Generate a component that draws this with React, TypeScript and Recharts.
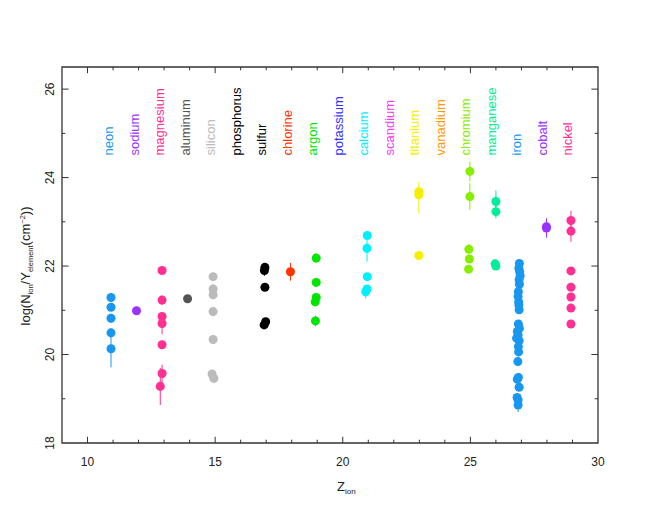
import {
  ErrorBar,
  ReferenceArea,
  ReferenceLine,
  Scatter,
  ScatterChart,
  XAxis,
  YAxis,
} from "recharts";

type Pt = { z: number; v: number; e: number | number[] };

const neon: Pt[] = [
  { z: 10.92, v: 21.29, e: 0 },
  { z: 10.92, v: 21.07, e: 0.08 },
  { z: 10.92, v: 20.82, e: 0.1 },
  { z: 10.92, v: 20.49, e: 0.1 },
  { z: 10.92, v: 20.13, e: 0.42 },
];
const sodium: Pt[] = [{ z: 11.92, v: 20.99, e: 0 }];
const magnesium: Pt[] = [
  { z: 12.92, v: 21.9, e: 0 },
  { z: 12.92, v: 21.23, e: 0.1 },
  { z: 12.92, v: 20.86, e: 0.1 },
  { z: 12.92, v: 20.7, e: 0.24 },
  { z: 12.92, v: 20.22, e: 0 },
  { z: 12.92, v: 19.57, e: 0.2 },
  { z: 12.85, v: 19.28, e: 0.42 },
];
const aluminum: Pt[] = [{ z: 13.92, v: 21.26, e: 0 }];
const silicon: Pt[] = [
  { z: 14.92, v: 21.76, e: 0 },
  { z: 14.92, v: 21.48, e: 0.12 },
  { z: 14.92, v: 21.35, e: 0.1 },
  { z: 14.92, v: 20.97, e: 0 },
  { z: 14.92, v: 20.34, e: 0 },
  { z: 14.88, v: 19.56, e: 0 },
  { z: 14.95, v: 19.46, e: 0 },
];
const sulfur: Pt[] = [
  { z: 16.95, v: 21.97, e: 0 },
  { z: 16.93, v: 21.9, e: 0.12 },
  { z: 16.95, v: 21.52, e: 0 },
  { z: 16.98, v: 20.74, e: 0 },
  { z: 16.92, v: 20.67, e: 0 },
];
const chlorine: Pt[] = [{ z: 17.95, v: 21.87, e: 0.2 }];
const argon: Pt[] = [
  { z: 18.96, v: 22.18, e: 0.1 },
  { z: 18.96, v: 21.63, e: 0.05 },
  { z: 18.96, v: 21.29, e: 0 },
  { z: 18.92, v: 21.19, e: 0 },
  { z: 18.93, v: 20.76, e: 0.12 },
];
const calcium: Pt[] = [
  { z: 20.96, v: 22.69, e: 0.05 },
  { z: 20.95, v: 22.4, e: 0.3 },
  { z: 20.96, v: 21.76, e: 0 },
  { z: 20.95, v: 21.48, e: 0 },
  { z: 20.9, v: 21.42, e: 0.15 },
];
const titanium: Pt[] = [
  { z: 22.98, v: 23.68, e: [0.49, 0.22] },
  { z: 22.98, v: 23.61, e: 0 },
  { z: 22.98, v: 22.24, e: 0 },
];
const chromium: Pt[] = [
  { z: 24.98, v: 24.14, e: 0.22 },
  { z: 24.98, v: 23.57, e: 0.3 },
  { z: 24.94, v: 22.38, e: 0.12 },
  { z: 24.96, v: 22.16, e: 0 },
  { z: 24.93, v: 21.93, e: 0 },
];
const manganese: Pt[] = [
  { z: 26.0, v: 23.46, e: 0.25 },
  { z: 26.0, v: 23.23, e: 0.15 },
  { z: 25.97, v: 22.05, e: 0.1 },
  { z: 26.0, v: 22.0, e: 0 },
];
const iron: Pt[] = [
  { z: 26.92, v: 22.06, e: 0 },
  { z: 26.9, v: 21.95, e: 0 },
  { z: 26.93, v: 21.87, e: 0 },
  { z: 26.95, v: 21.78, e: 0 },
  { z: 26.91, v: 21.69, e: 0 },
  { z: 26.92, v: 21.59, e: 0 },
  { z: 26.88, v: 21.42, e: 0 },
  { z: 26.87, v: 21.31, e: 0 },
  { z: 26.89, v: 21.19, e: 0 },
  { z: 26.9, v: 21.12, e: 0 },
  { z: 26.91, v: 21.01, e: 0 },
  { z: 26.88, v: 20.69, e: 0 },
  { z: 26.92, v: 20.59, e: 0 },
  { z: 26.84, v: 20.52, e: 0 },
  { z: 26.87, v: 20.44, e: 0 },
  { z: 26.81, v: 20.37, e: 0 },
  { z: 26.91, v: 20.31, e: 0 },
  { z: 26.88, v: 20.18, e: 0 },
  { z: 26.89, v: 20.06, e: 0.1 },
  { z: 26.86, v: 19.84, e: 0.1 },
  { z: 26.88, v: 19.48, e: 0 },
  { z: 26.84, v: 19.44, e: 0 },
  { z: 26.91, v: 19.26, e: 0 },
  { z: 26.83, v: 19.03, e: 0 },
  { z: 26.87, v: 18.97, e: 0.1 },
  { z: 26.87, v: 18.86, e: 0.16 },
];
const cobalt: Pt[] = [
  { z: 27.98, v: 22.89, e: 0.15 },
  { z: 27.98, v: 22.86, e: 0.22 },
];
const nickel: Pt[] = [
  { z: 28.94, v: 23.03, e: 0.22 },
  { z: 28.94, v: 22.79, e: 0.24 },
  { z: 28.94, v: 21.89, e: 0 },
  { z: 28.94, v: 21.52, e: 0 },
  { z: 28.94, v: 21.3, e: 0 },
  { z: 28.94, v: 21.05, e: 0 },
  { z: 28.94, v: 20.69, e: 0 },
];

const elements = [
  { name: "neon", z: 11, color: "#1897f0", points: neon },
  { name: "sodium", z: 12, color: "#9933ff", points: sodium },
  { name: "magnesium", z: 13, color: "#ff3092", points: magnesium },
  { name: "aluminum", z: 14, color: "#555555", points: aluminum },
  { name: "silicon", z: 15, color: "#bbbbbb", points: silicon },
  { name: "phosphorus", z: 16, color: "#000000", points: [] as Pt[] },
  { name: "sulfur", z: 17, color: "#000000", points: sulfur },
  { name: "chlorine", z: 18, color: "#ff3300", points: chlorine },
  { name: "argon", z: 19, color: "#00e600", points: argon },
  { name: "potassium", z: 20, color: "#3333ff", points: [] as Pt[] },
  { name: "calcium", z: 21, color: "#00f0ff", points: calcium },
  { name: "scandium", z: 22, color: "#f03cf0", points: [] as Pt[] },
  { name: "titanium", z: 23, color: "#f5ee00", points: titanium },
  { name: "vanadium", z: 24, color: "#ff9900", points: [] as Pt[] },
  { name: "chromium", z: 25, color: "#88ee00", points: chromium },
  { name: "manganese", z: 26, color: "#00ee99", points: manganese },
  { name: "iron", z: 27, color: "#1897f0", points: iron },
  { name: "cobalt", z: 28, color: "#9933ff", points: cobalt },
  { name: "nickel", z: 29, color: "#ff3092", points: nickel },
];

const xTicks = [10, 15, 20, 25, 30];
const yTicks = [18, 20, 22, 24, 26];
const xMinor = [10, 11, 12, 13, 14, 15, 16, 17, 18, 19, 20, 21, 22, 23, 24, 25, 26, 27, 28, 29];
const yMinor = [19, 20, 21, 22, 23, 24, 25, 26];

const labelRows = elements.map((el) => ({ z: el.z, v: 24.5, name: el.name, color: el.color }));

const FONT = "'Liberation Sans', Arial, sans-serif";
const AXIS = "#333";

const YTick = (props: any) => {
  const { x, y, payload } = props;
  return (
    <text
      x={x}
      y={y}
      transform={`rotate(-90 ${x} ${y})`}
      textAnchor="middle"
      fontSize={12}
      fill="#222"
      fontFamily={FONT}
    >
      {payload.value}
    </text>
  );
};

const XTitle = () => (
  <text x={337} y={491} fontSize={13} fill="#222" fontFamily={FONT}>
    Z
    <tspan fontSize={8} dy={3}>ion</tspan>
  </text>
);

const YTitle = () => (
  <text
    x={30}
    y={266}
    transform="rotate(-90 30 266)"
    textAnchor="middle"
    fontSize={13}
    fill="#222"
    fontFamily={FONT}
  >
    log(N
    <tspan fontSize={7.5} dy={3}>ion</tspan>
    <tspan dy={-3}>/Y</tspan>
    <tspan fontSize={7.5} dy={3}>element</tspan>
    <tspan dy={-3}>(cm</tspan>
    <tspan fontSize={7.5} dy={-5}>−2</tspan>
    <tspan dy={5}>))</tspan>
  </text>
);

export default function App() {
  return (
    <div style={{ position: "absolute", left: 0, top: 0, background: "#fff" }}>
      <ScatterChart
        width={660}
        height={510}
        margin={{ top: 67, right: 62, bottom: 37, left: 22 }}
        style={{ fontFamily: FONT }}
      >
        <XAxis
          type="number"
          dataKey="z"
          domain={[9, 30]}
          ticks={xTicks}
          tickLine={false}
          axisLine={false}
          tickSize={0}
          tickMargin={14}
          height={30}
          tick={{ fontSize: 12, fill: "#222" }}
          label={<XTitle />}
        />
        <YAxis
          type="number"
          dataKey="v"
          domain={[18, 26.5]}
          ticks={yTicks}
          tickLine={false}
          axisLine={false}
          tickSize={0}
          tickMargin={8}
          width={40}
          tick={<YTick />}
          label={<YTitle />}
        />
        <ReferenceArea x1={9} x2={30} y1={18} y2={26.5} fill="none" fillOpacity={0} stroke={AXIS} strokeWidth={1.3} />
        {xMinor.map((t) => {
          const len = xTicks.includes(t) ? 0.14 : 0.075;
          return [
            <ReferenceLine key={`xb${t}`} segment={[{ x: t, y: 18 }, { x: t, y: 18 + len }]} stroke={AXIS} />,
            <ReferenceLine key={`xt${t}`} segment={[{ x: t, y: 26.5 }, { x: t, y: 26.5 - len }]} stroke={AXIS} />,
          ];
        })}
        {yMinor.map((t) => {
          const len = yTicks.includes(t) ? 0.26 : 0.13;
          return [
            <ReferenceLine key={`yl${t}`} segment={[{ x: 9, y: t }, { x: 9 + len, y: t }]} stroke={AXIS} />,
            <ReferenceLine key={`yr${t}`} segment={[{ x: 30, y: t }, { x: 30 - len, y: t }]} stroke={AXIS} />,
          ];
        })}
        {elements
          .filter((el) => el.points.length > 0)
          .map((el) => (
            <Scatter key={el.name} name={el.name} data={el.points} fill={el.color} isAnimationActive={false}>
              <ErrorBar dataKey="e" direction="y" width={0} stroke={el.color} strokeWidth={1} />
            </Scatter>
          ))}
        <Scatter
          name="labels"
          data={labelRows}
          isAnimationActive={false}
          shape={(p: any) => (
            <text
              x={p.cx}
              y={p.cy}
              transform={`rotate(-90 ${p.cx} ${p.cy})`}
              textAnchor="start"
              fontSize={13}
              fill={p.payload.color}
              fontFamily={FONT}
            >
              {p.payload.name}
            </text>
          )}
        />
      </ScatterChart>
    </div>
  );
}
